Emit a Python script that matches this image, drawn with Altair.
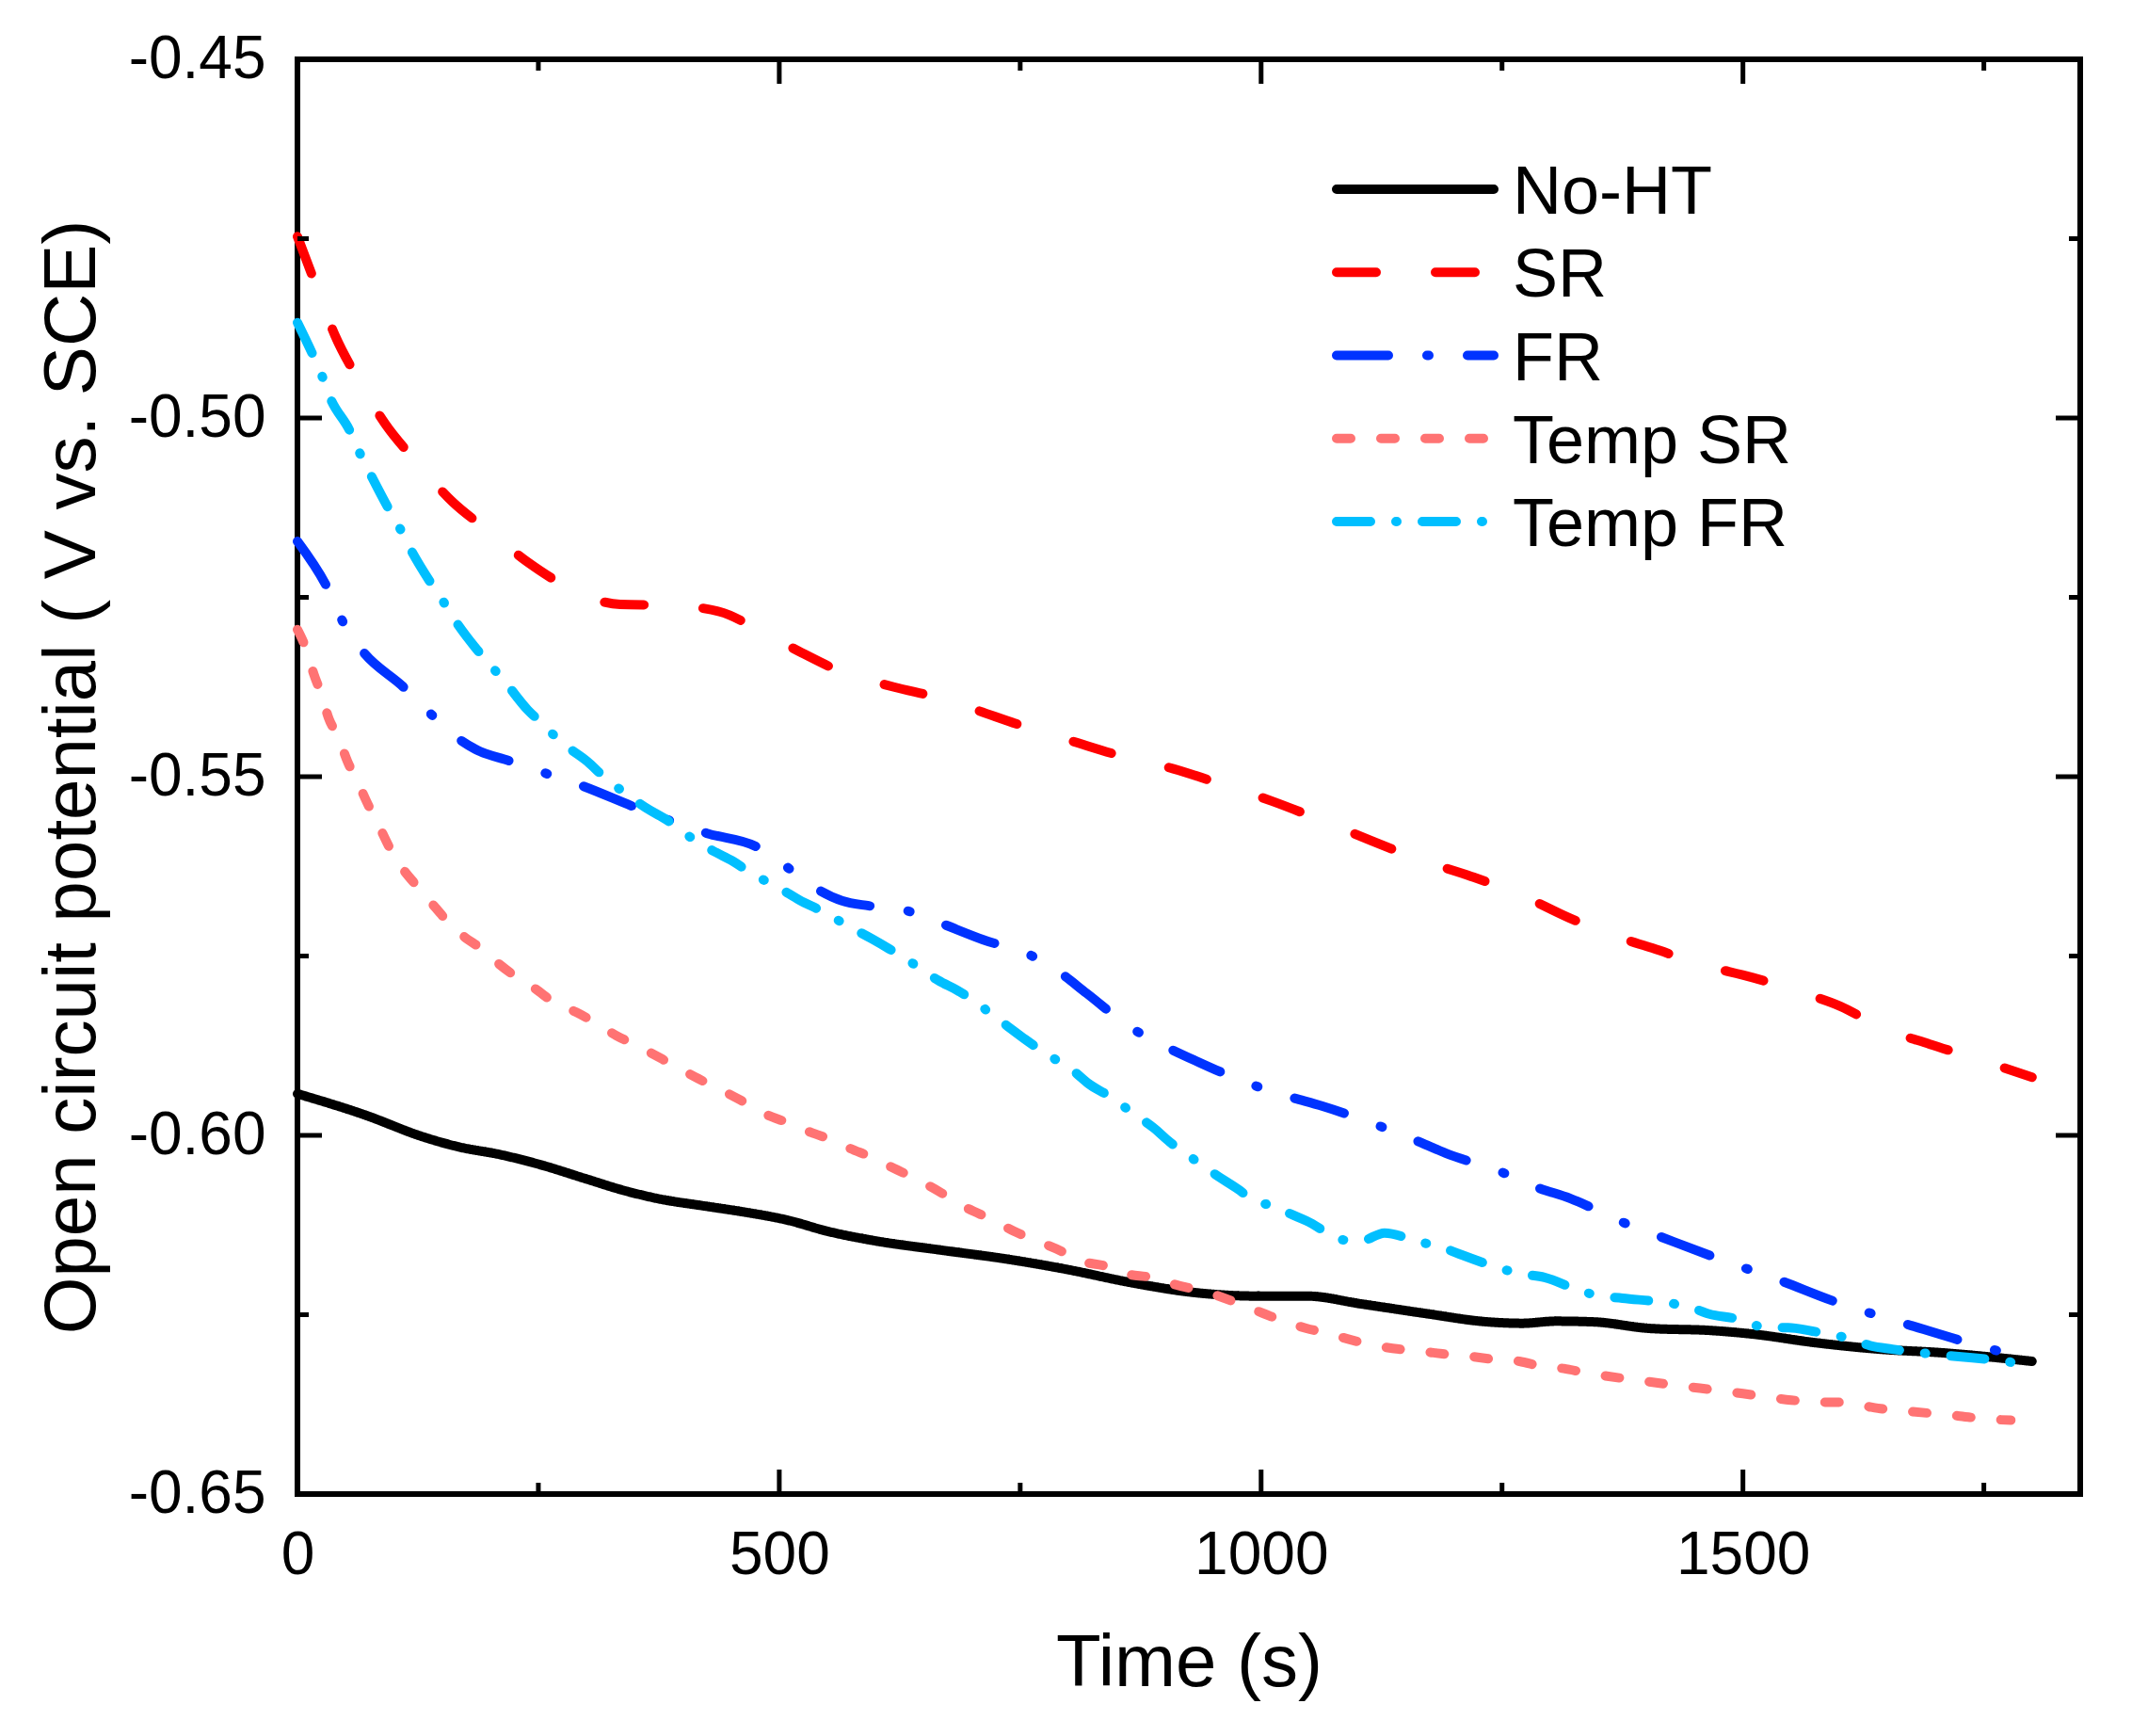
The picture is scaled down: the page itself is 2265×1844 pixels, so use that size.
import altair as alt
import pandas as pd

# series names, colours and dash styles
series = ["No-HT", "SR", "FR", "Temp SR", "Temp FR"]
colors = ["#000000", "#FF0000", "#0033FF", "#FF7373", "#00BFFF"]
dashes = [[1, 0], [42, 63], [55, 41, 2, 41], [15, 32], [36, 27, 1, 27]]

# values: time (s) and OCP (V vs. SCE)
t_noht = [0, 71, 128, 167, 211, 255, 298, 342, 377, 420, 464, 508, 551, 595, 668, 734, 799, 864, 930, 995,
          1047, 1104, 1169, 1235, 1271, 1306, 1345, 1402, 1467, 1510, 1575, 1641, 1706, 1772, 1800]
v_noht = [-0.5942, -0.5972, -0.6001, -0.6016, -0.6027, -0.6042, -0.6060, -0.6078, -0.6089, -0.6098,
          -0.6107, -0.6118, -0.6134, -0.6146, -0.6160, -0.6172, -0.6187, -0.6205, -0.6219, -0.6224,
          -0.6224, -0.6235, -0.6248, -0.6260, -0.6262, -0.6259, -0.6260, -0.6269, -0.6272, -0.6277,
          -0.6289, -0.6298, -0.6303, -0.6311, -0.6315]

t_sr = [0, 18, 39, 62, 91, 122, 161, 198, 239, 278, 335, 385, 438, 477, 523, 565, 619, 668, 702, 752,
        805, 857, 909, 958, 1011, 1061, 1114, 1163, 1218, 1268, 1320, 1371, 1406, 1457, 1510, 1561, 1601,
        1644, 1694, 1744, 1800]
v_sr = [-0.4747, -0.4811, -0.4885, -0.4944, -0.5008, -0.5059, -0.5117, -0.5157, -0.5201, -0.5234,
        -0.5260, -0.5261, -0.5270, -0.5294, -0.5327, -0.5354, -0.5375, -0.5391, -0.5406, -0.5429,
        -0.5451, -0.5472, -0.5489, -0.5510, -0.5534, -0.5560, -0.5589, -0.5615, -0.5639, -0.5664,
        -0.5697, -0.5724, -0.5739, -0.5762, -0.5780, -0.5801, -0.5820, -0.5850, -0.5873, -0.5894, -0.5919]

t_fr = [0, 32, 49, 67, 110, 138, 165, 185, 220, 257, 294, 351, 388, 425, 477, 508, 536, 565, 593, 630,
        667, 711, 761, 790, 819, 865, 899, 932, 990, 1029, 1063, 1121, 1157, 1192, 1251, 1285, 1321, 1375,
        1404, 1467, 1502, 1536, 1594, 1630, 1667, 1726, 1763, 1800]
v_fr = [-0.5172, -0.5239, -0.5289, -0.5324, -0.5375, -0.5412, -0.5445, -0.5462, -0.5478, -0.5495,
        -0.5512, -0.5543, -0.5562, -0.5579, -0.5598, -0.5626, -0.5654, -0.5673, -0.5680, -0.5686,
        -0.5704, -0.5727, -0.5749, -0.5772, -0.5802, -0.5850, -0.5875, -0.5896, -0.5929, -0.5946,
        -0.5959, -0.5986, -0.6005, -0.6025, -0.6052, -0.6072, -0.6088, -0.6121, -0.6136, -0.6168,
        -0.6185, -0.6201, -0.6231, -0.6247, -0.6262, -0.6286, -0.6300, -0.6318]

t_tsr = [0, 9, 17, 25, 32, 43, 52, 63, 74, 84, 96, 108, 125, 139, 156, 172, 191, 209, 228, 246,
         270, 289, 310, 331, 357, 379, 398, 416, 440, 460, 485, 508, 533, 556, 573, 595, 619, 638, 668, 690,
         723, 744, 769, 792, 812, 838, 860, 886, 908, 932, 956, 979, 1002, 1025, 1047, 1072, 1093, 1119,
         1143, 1167, 1191, 1217, 1240, 1268, 1291, 1314, 1337, 1400, 1500, 1550, 1576, 1601, 1625, 1649,
         1675, 1699, 1723, 1749, 1778]
v_tsr = [-0.5295, -0.5322, -0.5357, -0.5386, -0.5417, -0.5447, -0.5479, -0.5509, -0.5541, -0.5567,
         -0.5600, -0.5626, -0.5654, -0.5676, -0.5702, -0.5722, -0.5740, -0.5761, -0.5780, -0.5795,
         -0.5818, -0.5828, -0.5844, -0.5861, -0.5878, -0.5894, -0.5908, -0.5921, -0.5937, -0.5951,
         -0.5970, -0.5982, -0.5996, -0.6007, -0.6018, -0.6030, -0.6046, -0.6058, -0.6080, -0.6098,
         -0.6119, -0.6134, -0.6148, -0.6161, -0.6175, -0.6182, -0.6193, -0.6198, -0.6207, -0.6215,
         -0.6224, -0.6236, -0.6248, -0.6260, -0.6269, -0.6277, -0.6285, -0.6293, -0.6298, -0.6301,
         -0.6305, -0.6308, -0.6312, -0.6315, -0.6322, -0.6325, -0.6331, -0.6343, -0.6360, -0.6369,
         -0.6372, -0.6372, -0.6377, -0.6382, -0.6385, -0.6388, -0.6391, -0.6395, -0.6397]

t_tfr = [0, 17, 26, 34, 54, 64, 76, 94, 106, 117, 137, 150, 163, 184, 198, 216, 239, 255, 272, 301,
         318, 338, 366, 383, 403, 432, 452, 469, 501, 521, 542, 574, 596, 614, 645, 665, 685, 737, 755, 773,
         806, 821, 842, 869, 888, 905, 934, 953, 976, 995, 1013, 1028, 1047, 1087, 1104, 1128, 1163, 1187,
         1209, 1247, 1270, 1294, 1330, 1352, 1375, 1446, 1465, 1491, 1526, 1547, 1572, 1609, 1632, 1655,
         1690, 1713, 1738, 1772, 1796]
v_tfr = [-0.4867, -0.4915, -0.4943, -0.4972, -0.5017, -0.5047, -0.5079, -0.5125, -0.5153, -0.5182,
         -0.5227, -0.5253, -0.5281, -0.5319, -0.5341, -0.5369, -0.5407, -0.5427, -0.5450, -0.5479,
         -0.5500, -0.5521, -0.5547, -0.5560, -0.5580, -0.5604, -0.5618, -0.5633, -0.5656, -0.5672,
         -0.5686, -0.5710, -0.5726, -0.5740, -0.5766, -0.5784, -0.5798, -0.5848, -0.5866, -0.5883,
         -0.5911, -0.5928, -0.5945, -0.5971, -0.5989, -0.6009, -0.6037, -0.6055, -0.6075, -0.6093,
         -0.6098, -0.6108, -0.6119, -0.6146, -0.6147, -0.6136, -0.6148, -0.6156, -0.6167, -0.6185,
         -0.6193, -0.6198, -0.6216, -0.6224, -0.6227, -0.6240, -0.6249, -0.6255, -0.6268, -0.6268,
         -0.6273, -0.6283, -0.6293, -0.6298, -0.6304, -0.6307, -0.6310, -0.6315, -0.6320]

# axis ticks
x_major = [0, 500, 1000, 1500]
x_minor = [250, 750, 1250, 1750]
y_major = [-0.65, -0.60, -0.55, -0.50, -0.45]
y_minor = [-0.625, -0.575, -0.525, -0.475]

W, H = 1894, 1524
FONT = "Liberation Sans"

x_axis = alt.Axis(values=x_major, format="d", title="Time (s)", domain=False, ticks=False, grid=False,
                  labelFlush=False, labelPadding=84, labelBaseline="alphabetic",
                  labelFontSize=64, labelColor="black", titleFontSize=78, titleColor="black",
                  titleFontWeight="normal", titleY=203, titleBaseline="alphabetic")
y_axis = alt.Axis(values=y_major, title="Open circuit potential ( V vs. SCE)", domain=False,
                  ticks=False, grid=False, labelPadding=34, labelFontSize=64, labelColor="black",
                  labelExpr="replace(format(datum.value, '.2f'), '\u2212', '-')",
                  titleFontSize=78, titleColor="black", titleFontWeight="normal",
                  titleX=-216, titleY=H / 2, titleAngle=270, titleAlign="center",
                  titleBaseline="alphabetic")

X = alt.X("t:Q", scale=alt.Scale(domain=[0, 1850], nice=False, zero=False), axis=x_axis)
Y = alt.Y("v:Q", scale=alt.Scale(domain=[-0.65, -0.45], nice=False, zero=False), axis=y_axis)
C = alt.Color("series:N", scale=alt.Scale(domain=series, range=colors), legend=None)
D = alt.StrokeDash("series:N", scale=alt.Scale(domain=series, range=dashes), legend=None)

frames = [
    pd.DataFrame({"series": "No-HT", "t": t_noht, "v": v_noht}),
    pd.DataFrame({"series": "SR", "t": t_sr, "v": v_sr}),
    pd.DataFrame({"series": "FR", "t": t_fr, "v": v_fr}),
    pd.DataFrame({"series": "Temp SR", "t": t_tsr, "v": v_tsr}),
    pd.DataFrame({"series": "Temp FR", "t": t_tfr, "v": v_tfr}),
]

lines = [
    alt.Chart(df).mark_line(strokeWidth=10, strokeCap="round", interpolate="monotone")
    .encode(x=X, y=Y, color=C, strokeDash=D)
    for df in frames
]

# inward ticks on all four sides
tick_layers = []
for vals, ln in [(x_major, 26), (x_minor, 12)]:
    base = alt.Chart(pd.DataFrame({"t": vals})).mark_rule(color="black", strokeWidth=5)
    tick_layers.append(base.encode(x=X, y=alt.value(H), y2=alt.value(H - ln)))
    tick_layers.append(base.encode(x=X, y=alt.value(0), y2=alt.value(ln)))
for vals, ln in [(y_major, 26), (y_minor, 12)]:
    base = alt.Chart(pd.DataFrame({"v": vals})).mark_rule(color="black", strokeWidth=5)
    tick_layers.append(base.encode(y=Y, x=alt.value(0), x2=alt.value(ln)))
    tick_layers.append(base.encode(y=Y, x=alt.value(W), x2=alt.value(W - ln)))

main = alt.layer(*lines, *tick_layers)

# legend block inside the plot
leg_df = pd.DataFrame({"series": series})
LY = alt.Y("series:N", scale=alt.Scale(type="point", domain=series, range=[138, 491], padding=0),
           axis=None)
leg_rule = alt.Chart(leg_df).mark_rule(strokeWidth=10, strokeCap="round").encode(
    x=alt.value(1104), x2=alt.value(1271), y=LY, color=C, strokeDash=D)
leg_text = alt.Chart(leg_df).mark_text(align="left", baseline="alphabetic", dy=26, fontSize=72,
                                       font=FONT, color="black").encode(
    x=alt.value(1291), y=LY, text="series:N")
legend = alt.layer(leg_rule, leg_text)

chart = alt.layer(main, legend).resolve_scale(y="independent").properties(
    width=W, height=H,
    autosize=alt.AutoSizeParams(type="none"),
    padding={"left": 308, "top": 55, "right": 47, "bottom": 249},
    background="white",
).configure(font=FONT).configure_view(stroke="black", strokeWidth=6)

chart.save("out.html", embed_options={"renderer": "svg", "actions": False})
